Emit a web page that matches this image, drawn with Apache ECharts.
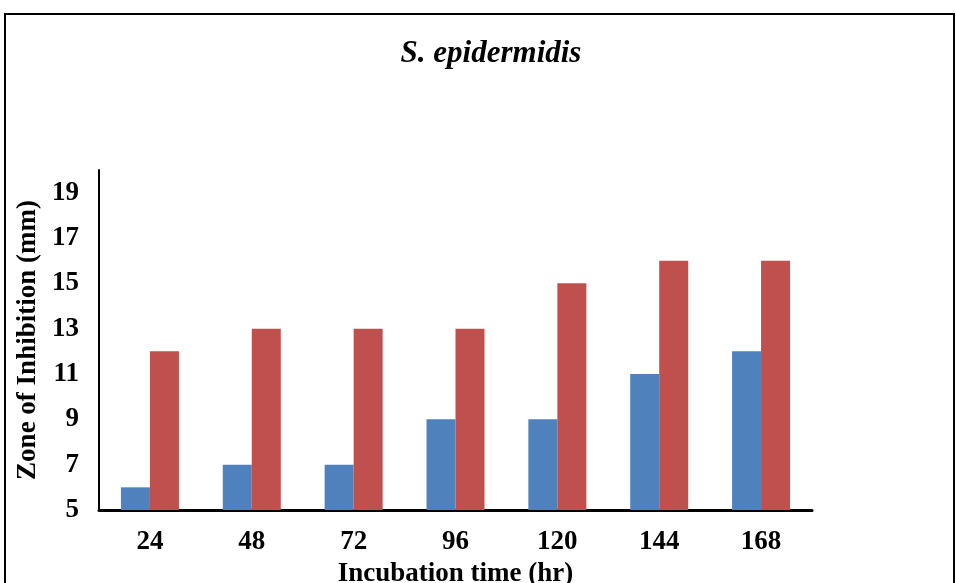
<!DOCTYPE html>
<html>
<head>
<meta charset="utf-8">
<script src="https://cdn.jsdelivr.net/npm/echarts@6/dist/echarts.min.js"></script>
<style>
  html, body { margin: 0; padding: 0; background: #fff; }
  #chart { width: 956px; height: 583px; }
</style>
</head>
<body>
<div id="chart"></div>
<script>
  // incubation time (hr)
  const categories = ['24', '48', '72', '96', '120', '144', '168'];
  const blueValues = [6, 7, 7, 9, 9, 11, 12];
  const redValues = [12, 13, 13, 13, 15, 16, 16];

  const font = 'Liberation Serif';
  const chart = echarts.init(document.getElementById('chart'));

  const option = {
    backgroundColor: '#fff',
    animation: false,
    title: {
      text: 'S. epidermidis',
      left: 486,
      top: 33,
      textAlign: 'center',
      textStyle: { fontFamily: font, fontStyle: 'italic', fontWeight: 'bold', fontSize: 31, color: '#000' }
    },
    graphic: [{
      type: 'rect',
      shape: { x: 5, y: 14, width: 949, height: 600 },
      style: { fill: 'none', stroke: '#000', lineWidth: 2 },
      silent: true
    }],
    grid: { left: 99, right: 144, top: 170, bottom: 73, outerBoundsMode: 'none' },
    xAxis: {
      type: 'category',
      data: categories,
      name: 'Incubation time (hr)',
      nameLocation: 'middle',
      nameGap: 50,
      nameTextStyle: { fontFamily: font, fontWeight: 'bold', fontSize: 27, color: '#000' },
      axisLine: { lineStyle: { color: '#000', width: 3 } },
      axisTick: { show: false },
      axisLabel: { fontFamily: font, fontWeight: 'bold', fontSize: 27, color: '#000', margin: 19 }
    },
    yAxis: {
      type: 'value',
      min: 5,
      max: 20,
      interval: 2,
      name: 'Zone of Inhibition (mm)',
      nameLocation: 'middle',
      nameGap: 54,
      nameTextStyle: { fontFamily: font, fontWeight: 'bold', fontSize: 27, color: '#000' },
      axisLine: { show: true, lineStyle: { color: '#000', width: 2 } },
      axisTick: { show: false },
      splitLine: { show: false },
      axisLabel: { fontFamily: font, fontWeight: 'bold', fontSize: 27, color: '#000', margin: 20, showMaxLabel: false }
    },
    series: [
      {
        type: 'bar',
        data: blueValues,
        barWidth: 29,
        barGap: '0%',
        itemStyle: { color: '#4f81bd' }
      },
      {
        type: 'bar',
        data: redValues,
        barWidth: 29,
        itemStyle: { color: '#c0504d' }
      }
    ]
  };
  chart.setOption(option);
</script>
</body>
</html>
